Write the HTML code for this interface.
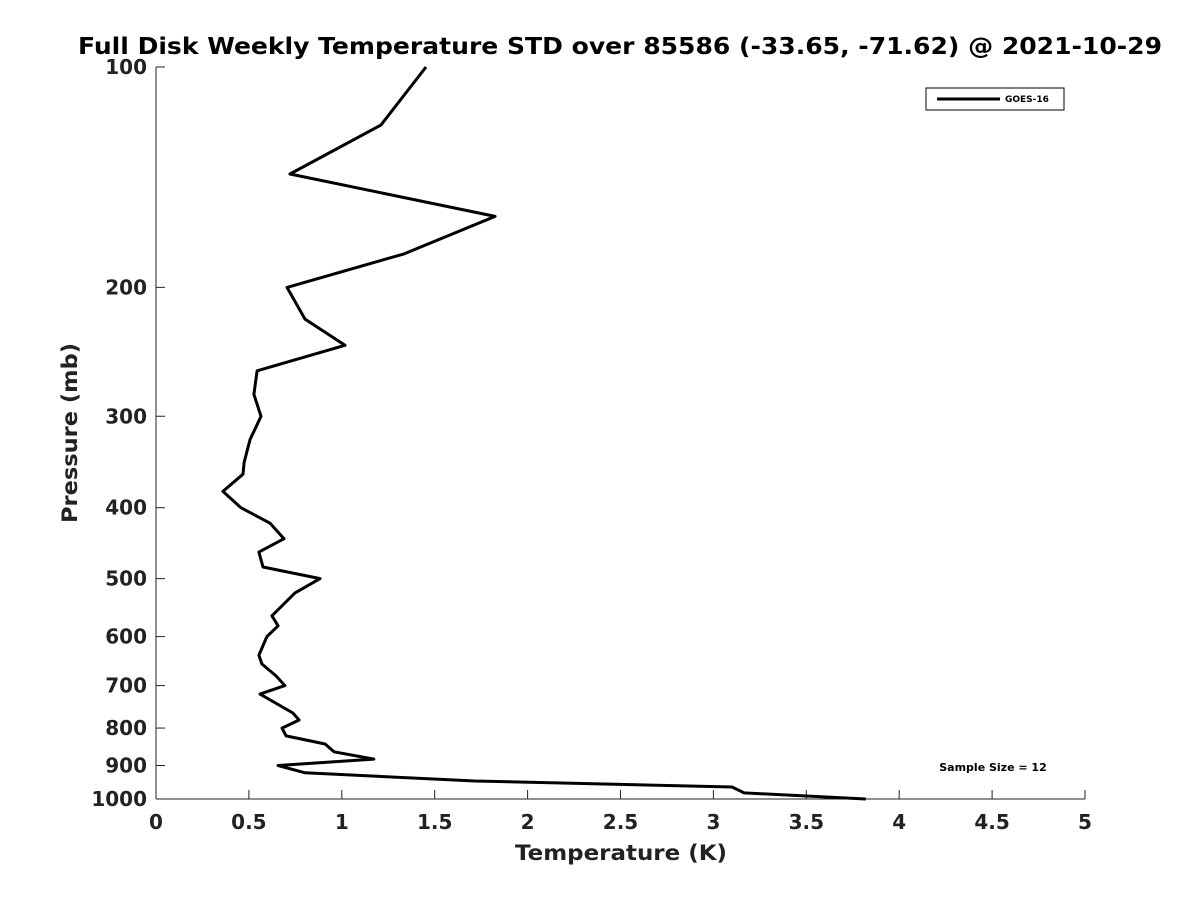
<!DOCTYPE html>
<html><head><meta charset="utf-8"><style>
body{margin:0;background:#fff;}
svg{display:block;font-family:"DejaVu Sans","Liberation Sans",sans-serif;}
</style></head><body>
<svg id="chart" width="1200" height="900">
<rect width="1200" height="900" fill="#fff"/>
<text x="620" y="54" text-anchor="middle" font-size="23" font-weight="bold" fill="#000" textLength="1084" lengthAdjust="spacingAndGlyphs">Full Disk Weekly Temperature STD over 85586 (-33.65, -71.62) @ 2021-10-29</text>
<g id="axes"></g>
<path id="line" fill="none" stroke="#000" stroke-width="3" stroke-linejoin="round"/>
<g>
<rect x="926" y="88" width="138" height="22" fill="#fff" stroke="#000" stroke-width="1"/>
<line x1="937" y1="99" x2="1000" y2="99" stroke="#000" stroke-width="3"/>
<text x="1005" y="102" font-size="9" font-weight="bold">GOES-16</text>
</g>
<text x="993" y="771" text-anchor="middle" font-size="11" font-weight="bold">Sample Size = 12</text>
<text x="621" y="860" text-anchor="middle" font-size="21" font-weight="bold" fill="#222" textLength="212" lengthAdjust="spacingAndGlyphs">Temperature (K)</text>
<text transform="translate(77,433) rotate(-90)" text-anchor="middle" font-size="21" font-weight="bold" fill="#222" textLength="180" lengthAdjust="spacingAndGlyphs">Pressure (mb)</text>
</svg>
<script>
const temps=[1.453,1.211,0.721,1.825,1.335,0.705,0.802,1.017,0.544,0.527,0.565,0.506,0.474,0.468,0.36,0.457,0.614,0.689,0.554,0.576,0.883,0.748,0.624,0.657,0.597,0.554,0.570,0.646,0.694,0.56,0.737,0.770,0.678,0.700,0.91,0.958,1.173,0.657,0.802,1.717,3.1,3.165,3.82];
const pressures=[100,120,140,160,180,200,221,240,260,280,300,323,347,360,380,400,420,441,460,482,500,523,562,580,600,636,654,679,700,719,763,780,800,820,841,862,882,900,921,945,963,981,1000];
const xTicks=[0,0.5,1,1.5,2,2.5,3,3.5,4,4.5,5];
const yTicks=[100,200,300,400,500,600,700,800,900,1000];
const X0=156,X1=1085,Y0=67,Y1=799;
const xs=v=>X0+(v/5)*(X1-X0);
const ys=p=>Y0+Math.log10(p/100)*(Y1-Y0);
const ns="http://www.w3.org/2000/svg";
const ax=document.getElementById('axes');
function mk(t,a){const e=document.createElementNS(ns,t);for(const k in a)e.setAttribute(k,a[k]);ax.appendChild(e);return e;}
const xl=mk('line',{x1:X0,y1:Y1,x2:X1,y2:Y1,stroke:'#222','stroke-width':1});


const yl=mk('line',{x1:X0,y1:Y0,x2:X0,y2:Y1,stroke:'#222','stroke-width':1});


xTicks.forEach(v=>{
 mk('line',{x1:xs(v),y1:Y1,x2:xs(v),y2:Y1-9,stroke:'#222'});
 const t=mk('text',{x:xs(v),y:Y1+30,'text-anchor':'middle','font-size':20,'font-weight':'bold',fill:'#222'});
 t.textContent=String(v);
 
 
});
yTicks.forEach(p=>{
 mk('line',{x1:X0,y1:ys(p),x2:X0+9,y2:ys(p),stroke:'#222'});
 const t=mk('text',{x:X0-9,y:ys(p)+7,'text-anchor':'end','font-size':20,'font-weight':'bold',fill:'#222'});
 t.textContent=String(p);
 
 
});
document.getElementById('line').setAttribute('d',temps.map((t,i)=>(i?'L':'M')+xs(t).toFixed(1)+','+ys(pressures[i]).toFixed(1)).join(' '));
</script>
</body></html>
